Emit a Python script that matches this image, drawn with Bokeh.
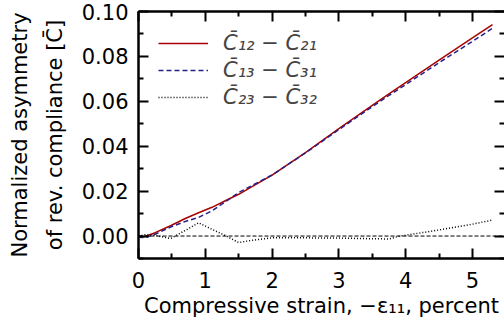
from bokeh.plotting import figure
from bokeh.models import (LinearAxis, FixedTicker, PrintfTickFormatter, Range1d,
                          Legend, LegendItem, Span, CustomJSTickFormatter)
from bokeh.embed import file_html
from bokeh.resources import INLINE

# ---- data ----
strain = [0.0, 0.1, 0.25, 0.48, 0.7, 0.9, 1.1, 1.3, 1.5, 1.7, 2.0, 2.5, 3.0,
          3.5, 3.75, 3.9, 4.5, 5.0, 5.3]
asym_12 = [0.0, -0.0002, 0.0015, 0.0046, 0.0078, 0.0104, 0.0128, 0.0157, 0.0186,
           0.0220, 0.0271, 0.0372, 0.0478, 0.0582, 0.0633, 0.0663, 0.0783, 0.0882, 0.0942]
asym_13 = [-0.0005, -0.0007, 0.0008, 0.0040, 0.0065, 0.0083, 0.0112, 0.0152, 0.0194,
           0.0225, 0.0272, 0.0370, 0.0474, 0.0576, 0.0626, 0.0655, 0.0772, 0.0867, 0.0925]
asym_23 = [0.0, 0.0006, 0.0003, -0.0011, 0.0025, 0.0059, 0.0030, 0.0002, -0.0029,
           -0.0019, -0.0008, -0.0008, -0.0009, -0.0012, -0.0013, -0.0001, 0.0027, 0.0053, 0.0071]
labels = ["C̄₁₂ − C̄₂₁", "C̄₁₃ − C̄₃₁", "C̄₂₃ − C̄₃₂"]
x_ticks = [0, 1, 2, 3, 4, 5]
x_minor = [0.5, 1.5, 2.5, 3.5, 4.5, 5.5]
y_ticks = [0.0, 0.02, 0.04, 0.06, 0.08, 0.10]
y_minor = [-0.01, 0.01, 0.03, 0.05, 0.07, 0.09]

FONT = "DejaVu Sans"

p = figure(width=504, height=321, output_backend="svg", toolbar_location=None,
           x_range=Range1d(0, 5.48), y_range=Range1d(-0.01, 0.10),
           min_border_left=138, min_border_right=0, min_border_top=11,
           min_border_bottom=63, x_axis_location=None, y_axis_location=None)
p.grid.visible = False
p.outline_line_color = None
p.background_fill_color = "white"
p.border_fill_color = "white"

def style_axis(ax, ticks, minor, labels_on, fmt=None):
    ax.ticker = FixedTicker(ticks=ticks, minor_ticks=minor)
    ax.major_tick_in = 10
    ax.major_tick_out = 0
    ax.minor_tick_in = 5
    ax.minor_tick_out = 0
    ax.major_tick_line_width = 2
    ax.minor_tick_line_width = 2
    ax.major_tick_line_color = "black"
    ax.minor_tick_line_color = "black"
    ax.axis_line_width = 2.5
    ax.axis_line_color = "black"
    if fmt:
        ax.formatter = fmt
    if labels_on:
        ax.major_label_text_font = FONT
        ax.major_label_text_font_size = "21px"
        ax.major_label_text_color = "black"
        ax.axis_label_text_font = FONT
        ax.axis_label_text_font_size = "21px"
        ax.axis_label_text_font_style = "normal"
        ax.axis_label_text_color = "black"
    else:
        ax.formatter = CustomJSTickFormatter(code="return ''")
        ax.major_label_text_font_size = "0px"
        ax.major_label_standoff = 0
        ax.axis_label = None
        ax.axis_label_standoff = 0

xb = LinearAxis()
style_axis(xb, x_ticks, x_minor, True)
xb.major_label_standoff = 13
xb.axis_label = "Compressive strain, −ε₁₁, percent"
xb.axis_label_standoff = 3
p.add_layout(xb, "below")

yl = LinearAxis()
style_axis(yl, y_ticks, y_minor, True, PrintfTickFormatter(format="%.2f"))
yl.major_label_standoff = 10
yl.axis_label = "of rev. compliance [C̄]"
yl.axis_label_standoff = 12
p.add_layout(yl, "left")

# outer left axis only carries the first line of the y label
yl2 = LinearAxis(ticker=FixedTicker(ticks=[]))
yl2.axis_line_color = None
yl2.major_tick_line_color = None
yl2.minor_tick_line_color = None
yl2.major_tick_out = 0
yl2.minor_tick_out = 0
yl2.formatter = CustomJSTickFormatter(code="return ''")
yl2.major_label_text_font_size = "0px"
yl2.major_label_standoff = 0
yl2.axis_label = "Normalized asymmetry"
yl2.axis_label_standoff = 8
yl2.axis_label_text_font = FONT
yl2.axis_label_text_font_size = "21px"
yl2.axis_label_text_font_style = "normal"
yl2.axis_label_text_color = "black"
p.add_layout(yl2, "left")

xt = LinearAxis()
style_axis(xt, x_ticks, x_minor, False)
p.add_layout(xt, "above")

yr = LinearAxis()
style_axis(yr, y_ticks, y_minor, False)
yr.axis_line_color = None
p.add_layout(yr, "right")

zero = Span(location=0, dimension="width", line_color="black", line_width=1,
            line_dash="4 2")
p.add_layout(zero)

r12 = p.line(strain, asym_12, line_color="#aa0000", line_width=1.5)
r13 = p.line(strain, asym_13, line_color="#22228a", line_width=1.5, line_dash="5 3")
r23 = p.line(strain, asym_23, line_color="black", line_width=1.5, line_dash="1 2")

legend = Legend(items=[LegendItem(label=labels[0], renderers=[r12]),
                       LegendItem(label=labels[1], renderers=[r13]),
                       LegendItem(label=labels[2], renderers=[r23])],
                location="top_left")
legend.border_line_color = None
legend.background_fill_alpha = 0
legend.label_text_font = FONT
legend.label_text_font_size = "21px"
legend.label_text_font_style = "italic"
legend.glyph_width = 50
legend.glyph_height = 20
legend.label_standoff = 15
legend.spacing = 3
legend.margin = 20
legend.padding = 10
p.add_layout(legend)

open("out.html", "w").write(file_html(p, INLINE))
